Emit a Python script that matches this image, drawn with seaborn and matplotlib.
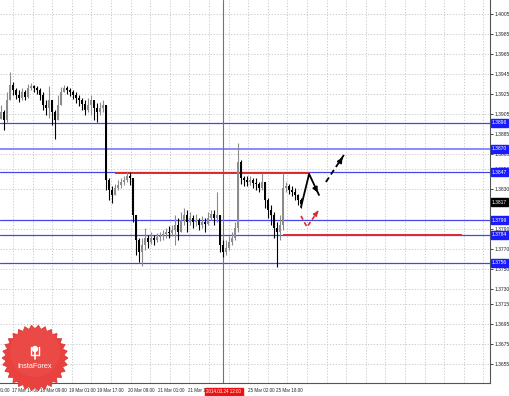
import numpy as np
import pandas as pd
import matplotlib
matplotlib.use("Agg")
import matplotlib.pyplot as plt
import matplotlib.transforms as mtrans
from matplotlib.patches import Polygon, Circle
import seaborn as sns

# ---------------- data (H1 bars) ----------------
first_open = 1.3900
close = [1.3907, 1.3899, 1.3919, 1.3934, 1.3929, 1.3924, 1.3921, 1.3927, 1.3922, 1.3931,
         1.3933, 1.3931, 1.3929, 1.3924, 1.3914, 1.3911, 1.3919, 1.3907, 1.3899, 1.3914,
         1.3927, 1.3931, 1.3929, 1.3927, 1.3924, 1.3921, 1.3919, 1.3915, 1.3909, 1.3914,
         1.3919, 1.3911, 1.3907, 1.3911, 1.3914, 1.3839, 1.3829, 1.3824, 1.3831, 1.3834,
         1.3837, 1.3839, 1.3843, 1.3841, 1.3804, 1.3779, 1.3767, 1.3774, 1.3781, 1.3777,
         1.3781, 1.3779, 1.3782, 1.3783, 1.3785, 1.3787, 1.3786, 1.3789, 1.3794, 1.3787,
         1.3799, 1.3804, 1.3797, 1.3801, 1.3797, 1.3799, 1.3794, 1.3797, 1.3795, 1.3801,
         1.3805, 1.3801, 1.3804, 1.3774, 1.3767, 1.3771, 1.3777, 1.3781, 1.3791, 1.3857,
         1.3841, 1.3839, 1.3837, 1.3839, 1.3836, 1.3835, 1.3831, 1.3837, 1.3819, 1.3809,
         1.3804, 1.3791, 1.3787, 1.3794, 1.3831, 1.3833, 1.3829, 1.3827, 1.3824, 1.3819,
         1.3815]
high = [1.3914, 1.3909, 1.3927, 1.3947, 1.3937, 1.3931, 1.3929, 1.3931, 1.3929, 1.3935,
        1.3936, 1.3934, 1.3933, 1.3931, 1.3927, 1.3919, 1.3933, 1.3919, 1.3909, 1.3924,
        1.3932, 1.3934, 1.3933, 1.3931, 1.3929, 1.3927, 1.3924, 1.3921, 1.3919, 1.3921,
        1.3924, 1.3919, 1.3916, 1.3917, 1.3919, 1.3914, 1.3841, 1.3833, 1.3835, 1.3839,
        1.3841, 1.3843, 1.3847, 1.3847, 1.3841, 1.3804, 1.3781, 1.3781, 1.3791, 1.3784,
        1.3787, 1.3784, 1.3786, 1.3787, 1.3789, 1.3791, 1.3793, 1.3794, 1.3804, 1.3801,
        1.3807, 1.3811, 1.3809, 1.3807, 1.3804, 1.3805, 1.3801, 1.3803, 1.3801, 1.3807,
        1.3809, 1.3809, 1.3827, 1.3804, 1.3779, 1.3779, 1.3783, 1.3787, 1.3797, 1.3876,
        1.3859, 1.3843, 1.3843, 1.3843, 1.3841, 1.3841, 1.3837, 1.3846, 1.3837, 1.3821,
        1.3814, 1.3807, 1.3797, 1.3804, 1.3846, 1.3837, 1.3835, 1.3833, 1.3831, 1.3825,
        1.3821]
low = [1.3901, 1.3889, 1.3897, 1.3919, 1.3924, 1.3920, 1.3917, 1.3919, 1.3919, 1.3921,
       1.3929, 1.3927, 1.3925, 1.3919, 1.3909, 1.3904, 1.3901, 1.3894, 1.3880, 1.3904,
       1.3919, 1.3927, 1.3925, 1.3923, 1.3920, 1.3916, 1.3913, 1.3909, 1.3904, 1.3907,
       1.3904, 1.3899, 1.3897, 1.3904, 1.3907, 1.3829, 1.3819, 1.3816, 1.3824, 1.3829,
       1.3831, 1.3834, 1.3837, 1.3834, 1.3797, 1.3764, 1.3757, 1.3753, 1.3769, 1.3771,
       1.3775, 1.3774, 1.3777, 1.3778, 1.3779, 1.3781, 1.3781, 1.3783, 1.3774, 1.3779,
       1.3791, 1.3794, 1.3787, 1.3794, 1.3791, 1.3793, 1.3789, 1.3791, 1.3787, 1.3794,
       1.3799, 1.3794, 1.3797, 1.3767, 1.3762, 1.3764, 1.3769, 1.3774, 1.3779, 1.3787,
       1.3835, 1.3833, 1.3833, 1.3834, 1.3831, 1.3829, 1.3827, 1.3829, 1.3811, 1.3801,
       1.3794, 1.3781, 1.3752, 1.3779, 1.3789, 1.3827, 1.3825, 1.3823, 1.3819, 1.3814,
       1.3811]

blue_levels = [1.3896, 1.3870, 1.3847, 1.3799, 1.3784, 1.3756]
current_price = 1.3817
red_level_prices = [1.3846, 1.3784]
red_level_start = [38, 94]
red_level_end = [103, 153.7]

price_ticks = [1.4005, 1.3985, 1.3965, 1.3945, 1.3925, 1.3905, 1.3885, 1.3865, 1.3850,
               1.3830, 1.3790, 1.3770, 1.3750, 1.3730, 1.3715, 1.3695, 1.3675,
               1.3655, 1.3635]
time_labels = ["17 Mar 01:00", "17 Mar 17:00", "18 Mar 09:00", "19 Mar 01:00",
               "19 Mar 17:00", "20 Mar 09:00", "21 Mar 01:00", "21 Mar 17:00",
               "25 Mar 02:00", "25 Mar 18:00"]
time_label_bars = [-6.0, 3.7, 13.0, 22.7, 32.0, 42.3, 52.3, 62.3, 82.3, 91.7]
cursor_label = "2014.03.24 12:00"
cursor_bar = 74.0

# forecast arrows (bar index, price)
main_path_x = [100.0, 102.7, 106.0]
main_path_y = [1.3812, 1.3845, 1.3824]
alt_path_x = [108.3, 114.3]
alt_path_y = [1.3837, 1.3864]
red_path_x = [100.0, 102.0, 105.7]
red_path_y = [1.3803, 1.3792, 1.3808]

# ---------------- figure ----------------
sns.set_style("white")
plt.rcParams['font.family'] = ['Liberation Sans', 'DejaVu Sans']
FS = 3.6
FSX = 3.25
W, H = 510, 396
fig = plt.figure(figsize=(W / 100, H / 100), dpi=100)
fig.patch.set_facecolor("white")
ax = fig.add_axes([0, 13 / H, 490 / W, 383 / H])
ax.set_facecolor("white")

n = len(close)
df = pd.DataFrame({"bar": np.arange(n), "close": close, "high": high, "low": low})
df["open"] = [first_open] + close[:-1]
df["high"] = np.maximum.reduce([df["high"], df["open"], df["close"]])
df["low"] = np.minimum.reduce([df["low"], df["open"], df["close"]])

XLIM = (-1 / 3, 163)
YLIM = (1.3636, 1.4019)

# grid
for p in price_ticks:
    ax.axhline(p, color="#c4c4c4", lw=0.6, ls=(0, (1.5, 2)), zorder=0)
for k in range(25):
    xg = (13 + 19.6 * k - 1) / 3
    ax.axvline(xg, color="#c4c4c4", lw=0.6, ls=(0, (1.5, 2)), zorder=0)

# levels
for i, p in enumerate(blue_levels):
    col = "#8a8aff" if i == 1 else "#4646f0"
    ax.axhline(p, color=col, lw=0.9 if i != 1 else 1.4, zorder=1)
for p, s, e in zip(red_level_prices, red_level_start, red_level_end):
    ax.hlines(p, s, e, color="#e02828", lw=1.4, zorder=3)
ax.axvline(cursor_bar, color="#a06060", lw=0.8, zorder=1)

# candles
up = df["close"] >= df["open"]
colors = np.where(up, "#8c8c8c", "#000000")
ax.vlines(df["bar"], df["low"], df["high"], colors=colors, lw=0.8, zorder=4)
body_bottom = np.minimum(df["open"], df["close"])
body_h = np.maximum((df["close"] - df["open"]).abs(), 0.00005)
ax.bar(df["bar"], body_h, bottom=body_bottom, width=0.6, color=colors, lw=0, zorder=5)

# forecast paths with seaborn
sns.lineplot(x=main_path_x, y=main_path_y, sort=False, color="black", lw=1.3, ax=ax, zorder=6)
ax.annotate("", xy=(main_path_x[-1], main_path_y[-1]), xytext=(main_path_x[-2] + 1.6, main_path_y[-2] - 0.0011),
            arrowprops=dict(arrowstyle="-|>", color="black", lw=1.3, mutation_scale=7), zorder=7)
sns.lineplot(x=alt_path_x, y=alt_path_y, sort=False, color="black", lw=1.3, ax=ax, zorder=6,
             linestyle=(0, (3, 2)))
ax.annotate("", xy=(alt_path_x[-1], alt_path_y[-1]), xytext=(alt_path_x[-1] - 1.2, alt_path_y[-1] - 0.0006),
            arrowprops=dict(arrowstyle="-|>", color="black", lw=1.3, mutation_scale=7), zorder=7)
sns.lineplot(x=red_path_x, y=red_path_y, sort=False, color="#e02828", lw=1.2, ax=ax, zorder=6,
             linestyle=(0, (2.5, 1.8)))
ax.annotate("", xy=(red_path_x[-1], red_path_y[-1]), xytext=(red_path_x[-1] - 1.0, red_path_y[-1] - 0.0004),
            arrowprops=dict(arrowstyle="-|>", color="#e02828", lw=1.2, mutation_scale=6), zorder=7)

ax.set_xlim(*XLIM)
ax.set_ylim(*YLIM)

# axes styling
for s in ["top", "left"]:
    ax.spines[s].set_visible(False)
for s in ["right", "bottom"]:
    ax.spines[s].set_color("#555555")
    ax.spines[s].set_linewidth(0.8)
ax.yaxis.tick_right()
ax.set_yticks(price_ticks)
ax.set_yticklabels([f"{p:.4f}" for p in price_ticks])
ax.tick_params(axis="y", labelsize=FS, length=2, pad=1.5, colors="#222222", width=0.6)
ax.set_xticks(time_label_bars[1:])
ax.set_xticklabels(time_labels[1:], ha="left")
ax.tick_params(axis="x", labelsize=FSX, length=2, pad=1.5, colors="#222222", width=0.6)
ax.set_xlabel("")
ax.set_ylabel("")
if ax.get_legend():
    ax.get_legend().remove()
ax.set_xlim(*XLIM)
ax.set_ylim(*YLIM)

trx = mtrans.blended_transform_factory(ax.transData, ax.transAxes)
# first (partly hidden) time label at the left edge
ax.text(time_label_bars[0], -0.012, time_labels[0], transform=trx, fontsize=FSX, color="#222222",
        va="top", ha="left", clip_on=False)

# price boxes on the right axis
tr = mtrans.blended_transform_factory(ax.transAxes, ax.transData)
for p in blue_levels:
    ax.text(1.004, p, f"{p:.4f}", transform=tr, fontsize=FS, color="white", va="center", ha="left",
            bbox=dict(boxstyle="square,pad=0.25", fc="#1a1aff", ec="#1a1aff"), zorder=10, clip_on=False)
ax.text(1.004, current_price, f"{current_price:.4f}", transform=tr, fontsize=FS, color="white",
        va="center", ha="left", bbox=dict(boxstyle="square,pad=0.25", fc="black", ec="black"),
        zorder=10, clip_on=False)

# cursor time box on bottom axis
ax.text(cursor_bar - 5.6, -0.016, cursor_label, transform=trx, fontsize=FSX, color="white",
        va="top", ha="left", bbox=dict(boxstyle="square,pad=0.35", fc="#ee1111", ec="#ee1111"),
        zorder=10, clip_on=False)

# logo badge
lax = fig.add_axes([0, 0, 1, 1])
lax.set_xlim(0, W)
lax.set_ylim(H, 0)
lax.axis("off")
cx, cy = 35, 358
m = 30
ang = np.linspace(0, 2 * np.pi, 2 * m, endpoint=False)
rad = np.where(np.arange(2 * m) % 2 == 0, 33, 29)
pts = np.c_[cx + rad * np.cos(ang), cy + rad * np.sin(ang)]
lax.add_patch(Polygon(pts, closed=True, fc="#e8413e", ec="#d83331", lw=0.5))
lax.add_patch(Circle((cx, cy - 6), 25, fc="#ee5a55", ec="none", alpha=0.35))
lax.text(cx, cy + 8, "InstaForex", color="white", fontsize=5.3, ha="center", va="center")
lax.add_patch(Circle((cx, cy - 9), 3.2, fc="white", ec="none"))
lax.plot([cx - 4, cx - 4, cx + 4, cx + 4], [cy - 11, cy - 3, cy - 3, cy - 11], color="white", lw=1.0)
lax.plot([cx, cx], [cy - 6, cy + 1], color="white", lw=1.2)

fig.savefig("out.png", dpi=100, facecolor="white")
